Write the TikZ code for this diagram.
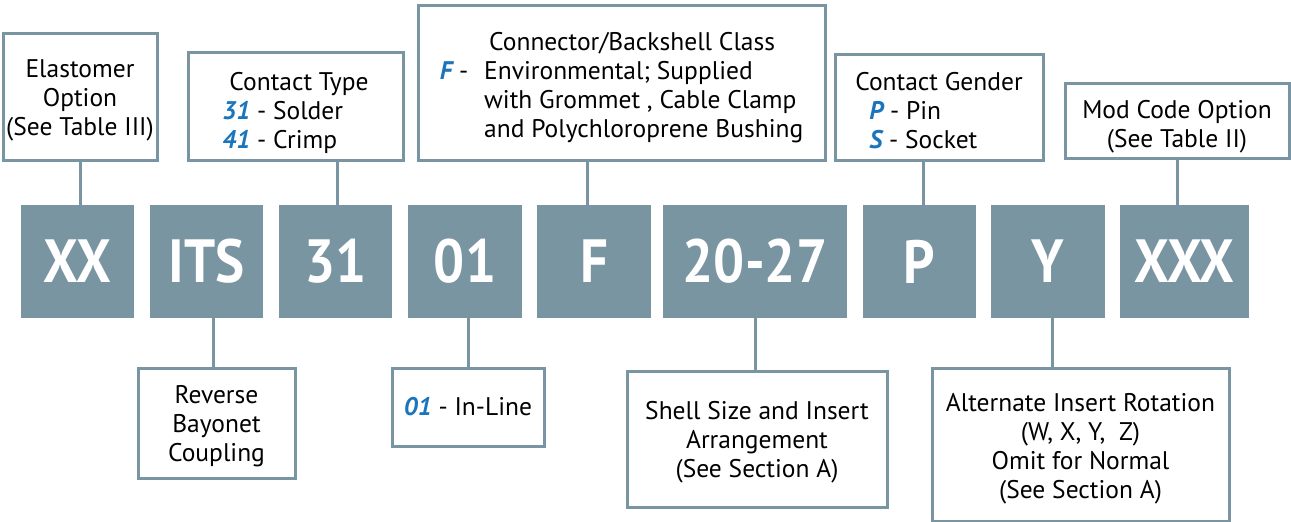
\documentclass[tikz,border=0pt]{standalone}
\usepackage{fontspec}
\setmainfont{PT Sans}
\newfontfamily\codefont[FakeStretch=0.9]{PT Sans}
\usepackage{xcolor}
\usetikzlibrary{positioning}
\definecolor{SlateMid}{RGB}{122,149,162}
\definecolor{OptionBlue}{RGB}{27,117,188}
\newcommand{\opt}[1]{\textcolor{OptionBlue}{\bfseries\itshape #1}}
\newcommand{\padtop}[1]{\rule{0pt}{#1}}

\begin{document}
\begin{tikzpicture}[x=1pt,y=-1pt,
    codebox/.style={fill=SlateMid,text=white,inner sep=0pt,
      minimum height=113pt,font=\codefont\fontsize{61}{61}\selectfont\bfseries},
    infobox/.style={draw=SlateMid,line width=3pt,fill=white,inner sep=0pt,
      align=center,font=\fontsize{25.5}{29}\selectfont},
    link/.style={draw=SlateMid,line width=3pt}]
  \useasboundingbox (0,0) rectangle (1291,522);
  % Part number blocks
  \node[codebox,minimum width=113.5pt] (xx)  at (77.4,261.5)  {XX};
  \node[codebox,minimum width=113.5pt] (its) at (206.5,261.5) {ITS};
  \node[codebox,minimum width=113.5pt] (c31) at (335.7,261.5) {31};
  \node[codebox,minimum width=113.5pt] (c01) at (465,261.5)   {01};
  \node[codebox,minimum width=113.5pt] (cf)  at (594,261.5)   {F};
  \node[codebox,minimum width=184.5pt] (sz)  at (755,261.5)   {20-27};
  \node[codebox,minimum width=113.5pt] (cp)  at (919.5,261.5) {P};
  \node[codebox,minimum width=113.5pt] (cy)  at (1048,261.5)  {Y};
  \node[codebox,minimum width=129pt]   (mod) at (1184.5,261.5) {XXX};
  % Upper descriptions
  \node[infobox,minimum width=154pt,minimum height=127pt] (elast) at (80,96.5)
    {\padtop{25pt}Elastomer\\Option\\(See Table III)};
  \node[infobox,minimum width=215pt,minimum height=108pt,align=left] (ctype) at (295.5,106)
    {\padtop{32pt}\hspace*{7pt}Contact Type\\\opt{31} - Solder\\\opt{41} - Crimp};
  \node[infobox,minimum width=407pt,minimum height=155pt] (cls) at (621.5,82.5)
    {\begin{tabular}{@{}l@{\hspace{16pt}}l@{}}
      \padtop{32pt} & \hspace*{5pt}Connector/Backshell Class\\
      \opt{F} - & Environmental; Supplied\\
      & with Grommet , Cable Clamp\\
      & and Polychloroprene Bushing
    \end{tabular}};
  \node[infobox,minimum width=208pt,minimum height=106pt,align=left] (gend) at (939,107)
    {\padtop{25pt}Contact Gender\\\hspace*{14pt}\opt{P} - Pin\\\hspace*{14pt}\opt{S} - Socket};
  \node[infobox,minimum width=224pt,minimum height=75pt] (modc) at (1177,120.5)
    {\padtop{31pt}Mod Code Option\\(See Table II)};
  % Lower descriptions
  \node[infobox,minimum width=157pt,minimum height=110pt] (bayo) at (216.5,423)
    {\padtop{24pt}Reverse\\Bayonet\\Coupling};
  \node[infobox,minimum width=152pt,minimum height=78pt] (inln) at (468,407)
    {\opt{01} - In-Line};
  \node[infobox,minimum width=260pt,minimum height=136pt] (shell) at (757,439)
    {\padtop{24pt}Shell Size and Insert\\Arrangement\\(See Section A)};
  \node[infobox,minimum width=297pt,minimum height=153pt] (rot) at (1080.5,444.5)
    {\padtop{26pt}Alternate Insert Rotation\\(W, X, Y,~ Z)\\Omit for Normal\\(See Section A)};
  % Leader lines
  \draw[link] (elast.south) -- (elast.south |- xx.north);
  \draw[link] ([xshift=2pt]c31.north) -- ([xshift=2pt]c31.north |- ctype.south);
  \draw[link] ([xshift=-7pt]cf.north) -- ([xshift=-7pt]cf.north |- cls.south);
  \draw[link] ([xshift=4pt]cp.north) -- ([xshift=4pt]cp.north |- gend.south);
  \draw[link] (modc.south) -- (modc.south |- mod.north);
  \draw[link] ([xshift=7pt]its.south) -- ([xshift=7pt]its.south |- bayo.north);
  \draw[link] (inln.north) -- (inln.north |- c01.south);
  \draw[link] (sz.south) -- (sz.south |- shell.north);
  \draw[link] ([xshift=4pt]cy.south) -- ([xshift=4pt]cy.south |- rot.north);
\end{tikzpicture}
\end{document}
